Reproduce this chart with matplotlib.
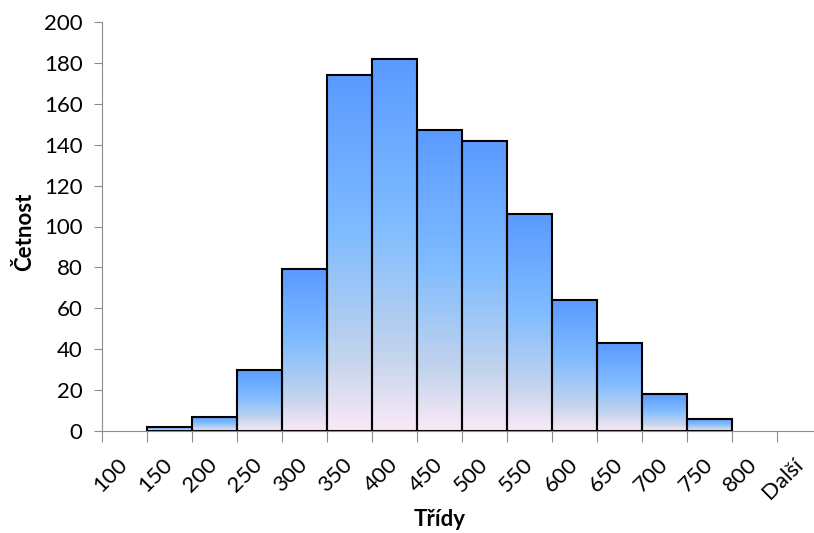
import numpy as np
import matplotlib.pyplot as plt
from matplotlib.colors import LinearSegmentedColormap
from matplotlib.patches import Rectangle

plt.rcParams['font.family'] = ['Lato', 'DejaVu Sans']

# histogram classes and counts
classes = ["100", "150", "200", "250", "300", "350", "400", "450", "500",
           "550", "600", "650", "700", "750", "800", "Další"]
counts = [0, 2, 7, 30, 79, 174, 182, 147, 142, 106, 64, 43, 18, 6, 0, 0]
y_ticks = [0, 20, 40, 60, 80, 100, 120, 140, 160, 180, 200]

grad = LinearSegmentedColormap.from_list(
    "excel_grad",
    [(0.0, "#fbe9f7"), (0.2, "#c4d4ec"), (0.55, "#80bcff"), (1.0, "#5a9aff")])
axis_gray = "#8c8c8c"

fig = plt.figure(figsize=(8.14, 5.33), dpi=100)
ax = fig.add_axes([102 / 814, 102 / 533, 720 / 814, 409 / 533])

g = np.linspace(0, 1, 256).reshape(-1, 1)
for i, v in enumerate(counts):
    if v <= 0:
        continue
    ax.imshow(g, cmap=grad, origin="lower", aspect="auto",
              extent=[i - 0.5, i + 0.5, 0, v], zorder=2)
    ax.add_patch(Rectangle((i - 0.5, 0), 1, v, fill=False,
                           edgecolor="black", linewidth=1.5, zorder=3))

ax.set_xlim(-0.5, len(classes) - 0.5)
ax.set_ylim(0, 200)

# tick marks at class boundaries, labels at class centres
ax.set_xticks(np.arange(len(classes)) - 0.5)
ax.set_xticklabels([])
ax.set_xticks(np.arange(len(classes)), minor=True)
ax.set_xticklabels(classes, minor=True, rotation=45, ha="right",
                   va="center", rotation_mode="anchor", fontsize=16)
ax.tick_params(axis="x", which="major", length=8, color=axis_gray)
ax.tick_params(axis="x", which="minor", length=0, pad=22)

ax.set_yticks(y_ticks)
ax.tick_params(axis="y", length=6, color=axis_gray, labelsize=16, pad=8)

for side in ["top", "right"]:
    ax.spines[side].set_visible(False)
for side in ["left", "bottom"]:
    ax.spines[side].set_color(axis_gray)
    ax.spines[side].set_zorder(4)

fig.text(25 / 814, 1 - 232 / 533, "Četnost", rotation=90, fontsize=16,
         fontweight="bold", ha="center", va="center")
fig.text(440 / 814, 1 - 520 / 533, "Třídy", fontsize=16,
         fontweight="bold", ha="center", va="center")

fig.savefig("out.png", dpi=100)
